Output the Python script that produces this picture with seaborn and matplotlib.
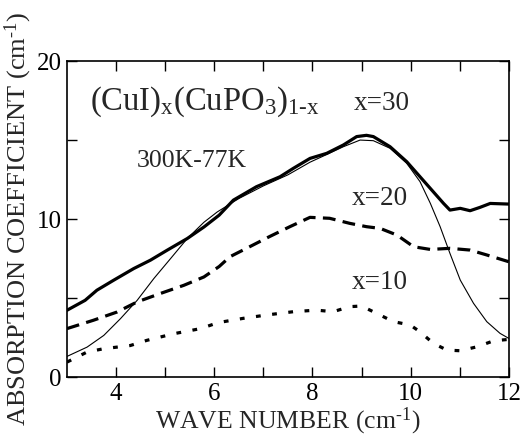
import numpy as np
import pandas as pd
import matplotlib
matplotlib.use("Agg")
import matplotlib.pyplot as plt
import seaborn as sns

# values
wave_30 = [3.0, 3.37, 3.61, 3.95, 4.36, 4.7, 5.04, 5.45, 5.79, 6.1, 6.39, 6.86, 7.34, 7.61, 7.95,
           8.29, 8.63, 8.9, 9.1, 9.24, 9.58, 9.92, 10.19, 10.46, 10.67, 10.8, 11.01, 11.21, 11.41,
           11.62, 12.0]
absorb_30 = [4.23, 4.86, 5.5, 6.13, 6.87, 7.4, 8.03, 8.77, 9.5, 10.25, 11.2, 12.05, 12.68, 13.21, 13.84,
             14.16, 14.69, 15.22, 15.3, 15.22, 14.58, 13.63, 12.68, 11.73, 10.99, 10.57, 10.68, 10.53, 10.74,
             10.99, 10.95]

wave_fit = [3.0, 3.41, 3.75, 4.09, 4.43, 4.77, 5.11, 5.45, 5.79, 6.06, 6.5, 7.0, 7.5, 7.95, 8.3,
            8.63, 8.97, 9.24, 9.58, 9.92, 10.19, 10.4, 10.6, 10.8, 11.01, 11.28, 11.55, 11.82, 12.0]
absorb_fit = [1.31, 1.9, 2.64, 3.7, 4.86, 6.24, 7.5, 8.77, 9.8, 10.45, 11.3, 12.1, 12.8, 13.6, 14.1,
              14.58, 15.0, 14.96, 14.48, 13.53, 12.37, 11.0, 9.52, 7.83, 6.14, 4.67, 3.51, 2.77, 2.45]

wave_20 = [3.0, 3.54, 4.02, 4.43, 4.9, 5.38, 5.79, 6.1, 6.32, 6.72, 7.13, 7.54, 7.95, 8.35, 8.76,
           9.1, 9.38, 9.72, 10.06, 10.4, 10.8, 11.21, 11.55, 12.0]
absorb_20 = [3.07, 3.6, 4.12, 4.76, 5.29, 5.81, 6.34, 7.0, 7.62, 8.25, 8.9, 9.52, 10.11, 10.05, 9.73,
             9.52, 9.41, 8.99, 8.25, 8.08, 8.15, 8.04, 7.73, 7.3]

wave_10 = [3.0, 3.41, 3.75, 4.29, 4.63, 5.18, 5.72, 6.08, 6.59, 7.06, 7.61, 8.08, 8.42, 8.76, 9.0,
           9.31, 9.65, 9.99, 10.19, 10.46, 10.74, 11.01, 11.35, 11.69, 12.0]
absorb_10 = [0.95, 1.59, 1.8, 2.0, 2.33, 2.75, 3.07, 3.45, 3.72, 3.93, 4.14, 4.24, 4.14, 4.46, 4.5,
             4.03, 3.51, 3.3, 2.87, 2.14, 1.71, 1.67, 1.92, 2.3, 2.39]

sns.set_style("ticks")
plt.rcParams["font.family"] = ["Liberation Serif", "DejaVu Serif"]
plt.rcParams["mathtext.fontset"] = "custom"
plt.rcParams["mathtext.rm"] = "Liberation Serif"
plt.rcParams["mathtext.it"] = "Liberation Serif"
plt.rcParams["mathtext.default"] = "regular"

fig = plt.figure(figsize=(5.23, 4.36), dpi=100)
ax = fig.add_axes([0.128, 0.135, 0.845, 0.725])

sns.lineplot(x=wave_fit, y=absorb_fit, ax=ax, color="black", linewidth=0.8)
sns.lineplot(x=wave_30, y=absorb_30, ax=ax, color="black", linewidth=2.3)
sns.lineplot(x=wave_20, y=absorb_20, ax=ax, color="black", linewidth=2.3,
             linestyle=(0, (4, 2.3)))
sns.lineplot(x=wave_10, y=absorb_10, ax=ax, color="black", linewidth=2.3,
             linestyle=(0, (1.5, 3.6)))

ax.set_xlim(3, 12)
ax.set_ylim(0, 20)
ax.set_xticks([4, 6, 8, 10, 12])
ax.set_xticks([5, 7, 9, 11], minor=True)
ax.set_yticks([0, 10, 20])
ax.set_yticks([5, 15], minor=True)
ax.tick_params(which="both", direction="in", top=True, right=True, width=1, colors="black",
               labelsize=18, pad=4)
ax.tick_params(which="both", length=7)
for s in ax.spines.values():
    s.set_linewidth(1.2)
    s.set_color("black")

ax.set_xlabel(r"WAVE NUMBER (cm$^{\text{-1}}$)", fontsize=18.5, labelpad=1)
ax.set_ylabel(r"ABSORPTION COEFFICIENT (cm$^{\text{-1}}$)", fontsize=19, labelpad=2)

ax.text(3.47, 16.9, r"(CuI)$_{x}$(CuPO$_{3}$)$_{\text{1-x}}$", fontsize=23.5, ha="left", va="baseline")
ax.text(4.43, 13.3, "300K-77K", fontsize=18.5, ha="left", va="baseline")
ax.text(8.85, 16.9, "x=30", fontsize=19.5, ha="left", va="baseline")
ax.text(8.8, 10.9, "x=20", fontsize=19.5, ha="left", va="baseline")
ax.text(8.8, 5.6, "x=10", fontsize=19.5, ha="left", va="baseline")

fig.savefig("out.png", dpi=100)
